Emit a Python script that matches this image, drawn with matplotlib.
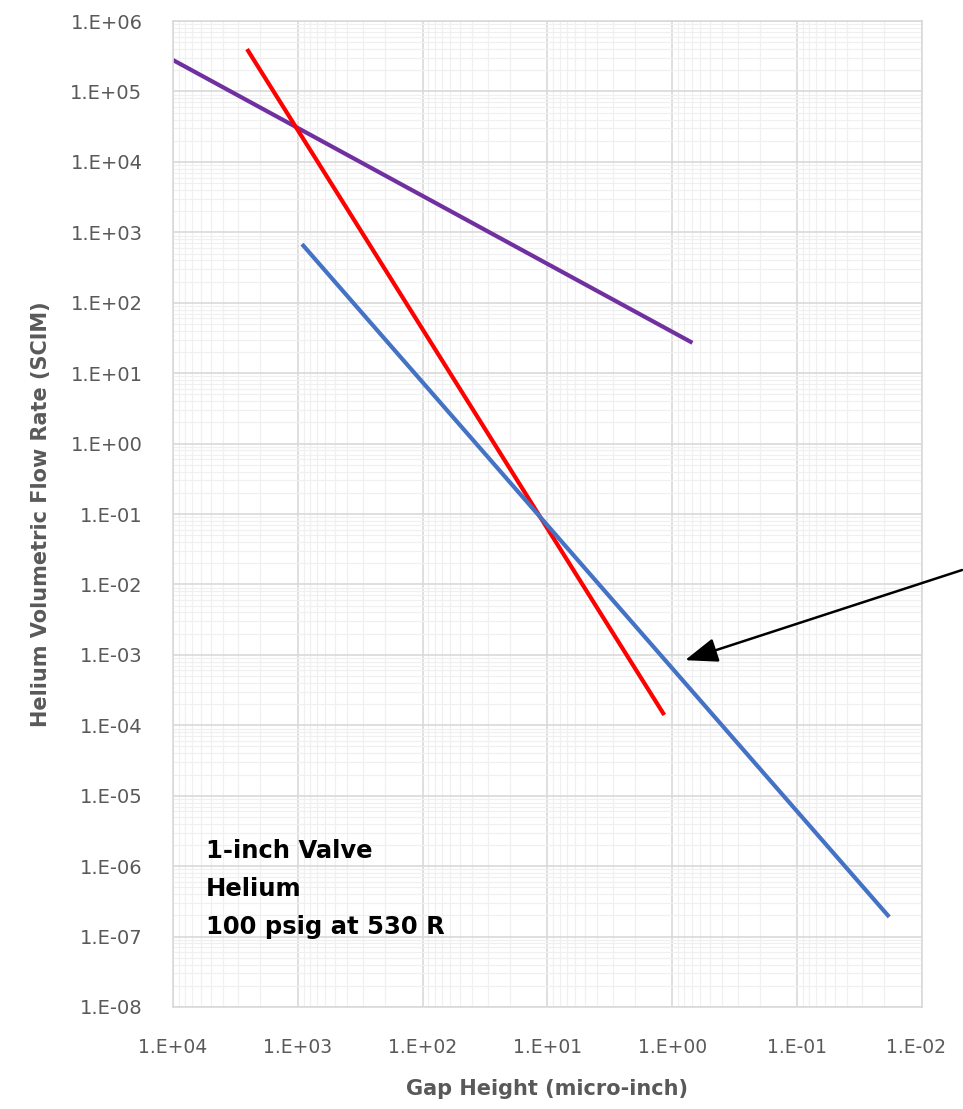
import numpy as np
import matplotlib
matplotlib.use('Agg')
import matplotlib.pyplot as plt
import matplotlib.transforms as mtransforms
from matplotlib.ticker import LogLocator, FuncFormatter, NullFormatter

# straight lines on log-log axes, two end points each (gap in micro-inch, flow in SCIM)
purple_gap = [1.0e4, 0.69]
purple_flow = [2.8e5, 27.0]
red_gap = [2550.0, 1.16]
red_flow = [4.0e5, 1.4e-4]
blue_gap = [925.0, 0.0183]
blue_flow = [680.0, 1.9e-7]

arrow_tip = (0.79, 8.4e-4)
note_lines = ['1-inch Valve', 'Helium', '100 psig at 530 R']

fig = plt.figure(figsize=(9.63, 11.09), dpi=100)
ax = fig.add_axes([0.1796, 0.092, 0.7778, 0.889])

ax.plot(purple_gap, purple_flow, color='#7030A0', lw=3, solid_capstyle='butt')
ax.plot(red_gap, red_flow, color='#FF0000', lw=3, solid_capstyle='butt')
ax.plot(blue_gap, blue_flow, color='#4472C4', lw=3, solid_capstyle='butt')

ax.set_xscale('log')
ax.set_yscale('log')
ax.set_xlim(1e4, 1e-2)
ax.set_ylim(1e-8, 1e6)

ax.set_xticks([1e4, 1e3, 1e2, 1e1, 1e0, 1e-1, 1e-2])
ax.yaxis.set_major_locator(LogLocator(base=10, numticks=30))
ax.xaxis.set_minor_locator(LogLocator(base=10, subs=np.arange(2, 10), numticks=100))
ax.yaxis.set_minor_locator(LogLocator(base=10, subs=np.arange(2, 10), numticks=100))

def sci_fmt(v, pos):
    e = int(round(np.log10(v)))
    return f'1.E{e:+03d}'

ax.xaxis.set_major_formatter(FuncFormatter(sci_fmt))
ax.yaxis.set_major_formatter(FuncFormatter(sci_fmt))
ax.xaxis.set_minor_formatter(NullFormatter())
ax.yaxis.set_minor_formatter(NullFormatter())

ax.grid(which='major', color='#d9d9d9', lw=1.2)
ax.grid(which='minor', color='#f0f0f0', lw=0.9)
ax.set_axisbelow(True)
for s in ax.spines.values():
    s.set_color('#d9d9d9')
    s.set_linewidth(1.2)

ax.tick_params(which='both', length=0)
ax.tick_params(axis='y', pad=22, labelsize=14, labelcolor='#595959')
ax.tick_params(axis='x', pad=22, labelsize=13.5, labelcolor='#595959')

# nudge the last x label so it stays inside the figure
last = ax.get_xticklabels()[-1]
last.set_transform(last.get_transform() +
                   mtransforms.ScaledTranslation(-6 / 100, 0, fig.dpi_scale_trans))

ax.set_xlabel('Gap Height (micro-inch)', fontsize=15, fontweight='bold',
              color='#595959', labelpad=16)
ax.set_ylabel('Helium Volumetric Flow Rate (SCIM)', fontsize=15, fontweight='bold',
              color='#595959', labelpad=14)

for i, t in enumerate(note_lines):
    ax.text(0.044, 0.158 - i * 0.0385, t, transform=ax.transAxes,
            fontsize=17.5, fontweight='bold', color='black', va='center', ha='left')

ax.annotate('', xy=arrow_tip, xycoords='data',
            xytext=(0.999, 0.486), textcoords='figure fraction',
            arrowprops=dict(arrowstyle='-|>,head_length=2.0,head_width=0.75',
                            color='black', lw=1.8, shrinkA=0, shrinkB=0),
            annotation_clip=False)

fig.savefig('out.png', dpi=100)
